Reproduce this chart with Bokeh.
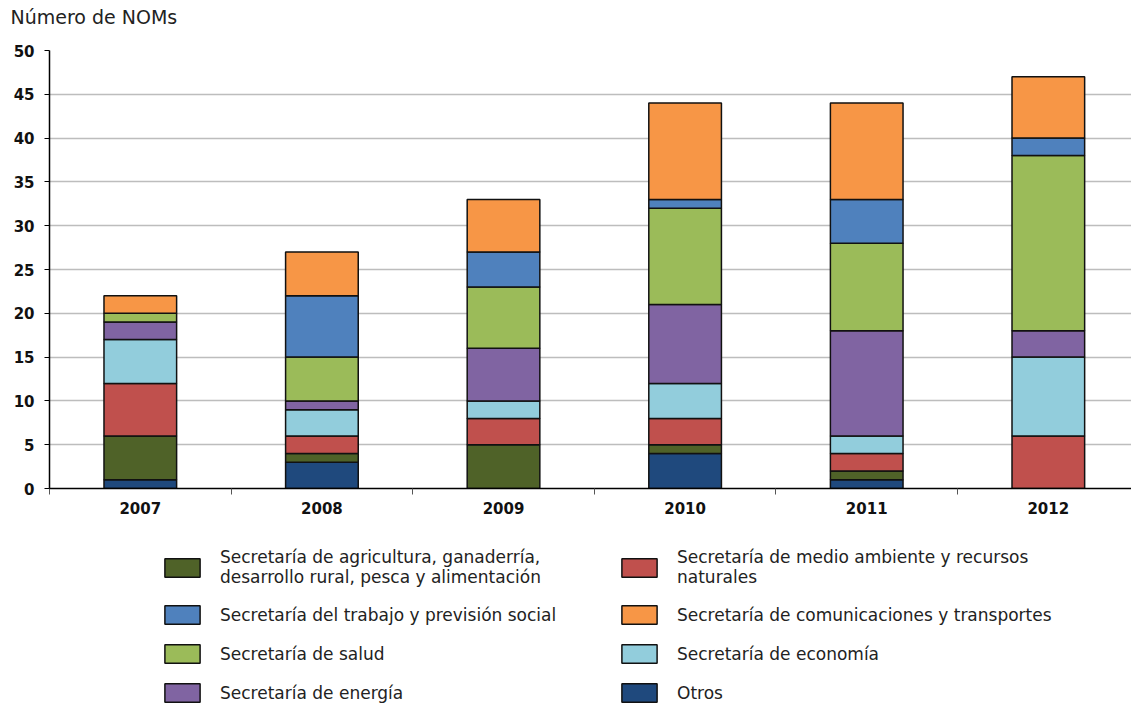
from bokeh.plotting import figure
from bokeh.layouts import column
from bokeh.models import (Range1d, FixedTicker, Legend, LegendItem, ColumnDataSource, Title)
from bokeh.embed import file_html
from bokeh.resources import INLINE

years = ["2007", "2008", "2009", "2010", "2011", "2012"]
otros = [1, 3, 0, 4, 1, 0]
agricultura = [5, 1, 5, 1, 1, 0]
medio_ambiente = [6, 2, 3, 3, 2, 6]
economia = [5, 3, 2, 4, 2, 9]
energia = [2, 1, 6, 9, 12, 3]
salud = [1, 5, 7, 11, 10, 20]
trabajo = [0, 7, 4, 1, 5, 2]
comunicaciones = [2, 5, 6, 11, 11, 7]

series_keys = ["otros", "agricultura", "medio_ambiente", "economia", "energia",
               "salud", "trabajo", "comunicaciones"]
series_vals = [otros, agricultura, medio_ambiente, economia, energia, salud,
               trabajo, comunicaciones]
series_labels = {
    "agricultura": "Secretaría de agricultura, ganaderría,\ndesarrollo rural, pesca y alimentación",
    "medio_ambiente": "Secretaría de medio ambiente y recursos\nnaturales",
    "trabajo": "Secretaría del trabajo y previsión social",
    "comunicaciones": "Secretaría de comunicaciones y transportes",
    "salud": "Secretaría de salud",
    "economia": "Secretaría de economía",
    "energia": "Secretaría de energía",
    "otros": "Otros",
}
colors = {
    "otros": "#1F497D",
    "agricultura": "#4F6228",
    "medio_ambiente": "#C0504D",
    "economia": "#92CDDC",
    "energia": "#8064A2",
    "salud": "#9BBB59",
    "trabajo": "#4F81BD",
    "comunicaciones": "#F79646",
}

xpos = [i + 0.5 for i in range(len(years))]
data = {"x": xpos}
for k, v in zip(series_keys, series_vals):
    data[k] = v
src = ColumnDataSource(data)

FONT = "DejaVu Sans"

p = figure(width=1131, height=530, output_backend="svg", toolbar_location=None,
           x_range=Range1d(0, 5.958), y_range=Range1d(0, 50),
           min_border_left=49, min_border_right=0, min_border_top=50,
           min_border_bottom=42)
p.outline_line_color = None

p.title = Title(text="Número de NOMs\n", align="left", offset=-39,
                text_font=FONT, text_font_size="19px", text_font_style="normal",
                text_color="#222222", standoff=2)

renderers = p.vbar_stack(series_keys, x="x", width=0.40, source=src,
                         fill_color=[colors[k] for k in series_keys],
                         line_color="#111111", line_width=1.5)

# axes
p.xaxis.ticker = FixedTicker(ticks=xpos, minor_ticks=list(range(len(years) + 1)))
p.xaxis.major_label_overrides = {x: y for x, y in zip(xpos, years)}
p.xaxis.major_tick_in = 0
p.xaxis.major_tick_out = 0
p.xaxis.minor_tick_in = 0
p.xaxis.minor_tick_out = 6
p.xaxis.minor_tick_line_color = "#555555"
p.xaxis.axis_line_color = "#000000"
p.xaxis.axis_line_width = 1.5
p.xaxis.major_label_text_font = FONT
p.xaxis.major_label_text_font_style = "bold"
p.xaxis.major_label_text_font_size = "15px"
p.xaxis.major_label_text_color = "#111111"
p.xaxis.major_label_standoff = 7

p.yaxis.ticker = FixedTicker(ticks=list(range(0, 51, 5)), minor_ticks=[])
p.yaxis.major_tick_in = 0
p.yaxis.major_tick_out = 5
p.yaxis.major_tick_line_color = "#000000"
p.yaxis.axis_line_color = "#000000"
p.yaxis.axis_line_width = 1.5
p.yaxis.major_label_text_font = FONT
p.yaxis.major_label_text_font_style = "bold"
p.yaxis.major_label_text_font_size = "15px"
p.yaxis.major_label_text_color = "#111111"
p.yaxis.major_label_standoff = 10

p.xgrid.grid_line_color = None
p.ygrid.grid_line_color = "#BDBDBD"
p.ygrid.grid_line_width = 1.5

# legend figure: proxy rects lie far outside its visible ranges; only the legend shows
p2 = figure(width=1131, height=174, output_backend="svg", toolbar_location=None,
            x_axis_type=None, y_axis_type=None,
            x_range=Range1d(0, 6), y_range=Range1d(60, 61),
            min_border_left=0, min_border_right=0, min_border_top=0,
            min_border_bottom=0)
p2.outline_line_color = None
p2.xgrid.grid_line_color = None
p2.ygrid.grid_line_color = None

rmap = {}
for k in series_keys:
    rmap[k] = p2.rect(x="x", y=k, width=0.4, height=0.5, source=src,
                      fill_color=colors[k], line_color="#111111", line_width=1.5)

col1 = ["agricultura", "trabajo", "salud", "energia"]
col2 = ["medio_ambiente", "comunicaciones", "economia", "otros"]
items = [LegendItem(label=series_labels[k], renderers=[rmap[k]]) for k in col1 + col2]
legend = Legend(items=items, ncols=2, orientation="vertical",
                location=(111, 0),
                label_text_font=FONT, label_text_font_size="17px",
                label_text_color="#222222",
                glyph_width=44, glyph_height=23, label_standoff=16,
                label_width=381, spacing=16, padding=0, margin=0,
                border_line_color=None, background_fill_alpha=0)
p2.add_layout(legend, "center")

layout = column(p, p2, spacing=0)
open("out.html", "w").write(file_html(layout, INLINE))
